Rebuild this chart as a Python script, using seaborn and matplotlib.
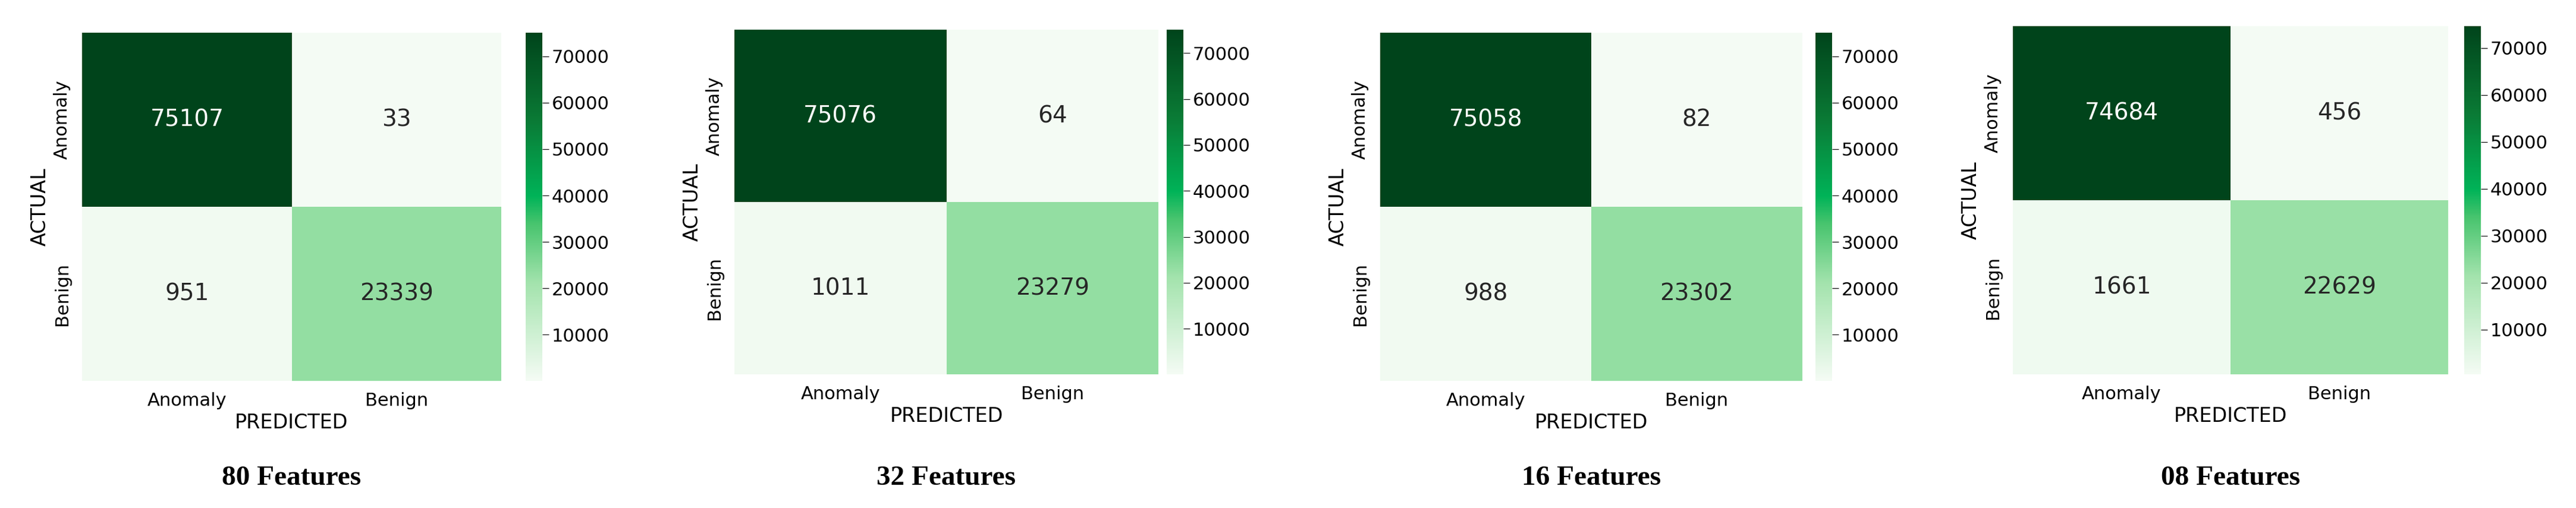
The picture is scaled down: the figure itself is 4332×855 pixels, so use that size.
import numpy as np
import matplotlib
matplotlib.use("Agg")
import matplotlib.pyplot as plt
from matplotlib.colors import LinearSegmentedColormap
import seaborn as sns

labels = ["Anomaly", "Benign"]
titles = ["80 Features", "32 Features", "16 Features", "08 Features"]
cm80 = [[75107, 33], [951, 23339]]
cm32 = [[75076, 64], [1011, 23279]]
cm16 = [[75058, 82], [988, 23302]]
cm08 = [[74684, 456], [1661, 22629]]
mats = [cm80, cm32, cm16, cm08]

cmap = LinearSegmentedColormap.from_list(
    "g", [(0, "#f4fbf4"), (0.28, "#a3e3ad"), (0.45, "#48c46e"),
          (0.53, "#00b358"), (0.75, "#0a7a35"), (1, "#00441b")])

W, H = 4332, 855
fig = plt.figure(figsize=(W / 100, H / 100), dpi=100)
boxes = [(138, 843, 55, 641, 884, 912),
         (1235, 1948, 50, 630, 1962, 1990),
         (2321, 3031, 55, 641, 3053, 3081),
         (3385, 4117, 44, 630, 4144, 4172)]
for m, t, (x0, x1, y0, y1, c0, c1) in zip(mats, titles, boxes):
    ax = fig.add_axes([x0 / W, 1 - y1 / H, (x1 - x0) / W, (y1 - y0) / H])
    cax = fig.add_axes([c0 / W, 1 - y1 / H, (c1 - c0) / W, (y1 - y0) / H])
    arr = np.array(m)
    sns.heatmap(arr, annot=True, fmt="d", cmap=cmap, ax=ax, cbar_ax=cax,
                xticklabels=labels, yticklabels=labels,
                annot_kws={"fontsize": 28})
    ax.tick_params(labelsize=22, length=0, pad=14)
    ax.set_yticklabels(labels, rotation=90, va="center")
    ax.set_xlabel("PREDICTED", fontsize=24, labelpad=4)
    ax.set_ylabel("ACTUAL", fontsize=24)
    cax.tick_params(labelsize=22, length=8)
    cax.set_yticks([10000, 20000, 30000, 40000, 50000, 60000, 70000])
    fig.text((x0 + x1) / 2 / W, 1 - 805 / H, t, ha="center", va="center",
             fontsize=34, fontweight="bold", family="Liberation Serif")
fig.savefig("out.png", dpi=100)
